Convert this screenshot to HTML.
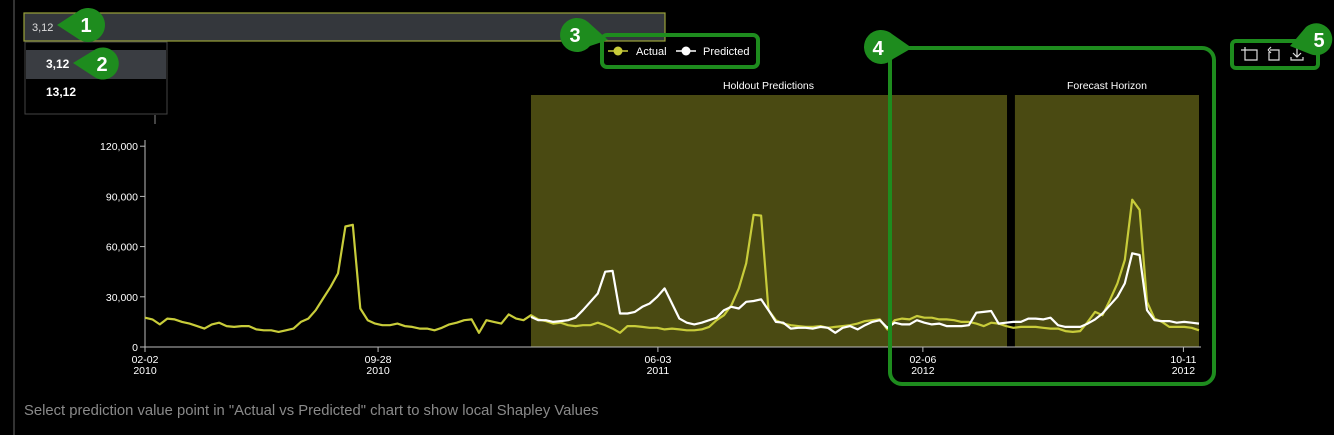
<!DOCTYPE html>
<html><head><meta charset="utf-8">
<style>
html,body{margin:0;padding:0;background:#000;width:1334px;height:435px;overflow:hidden;font-family:"Liberation Sans",sans-serif;}
svg{display:block}
</style></head>
<body>
<svg id="chart" width="1334" height="435" xmlns="http://www.w3.org/2000/svg">
  <line x1="14" y1="0" x2="14" y2="435" stroke="#444" stroke-width="1.5"/>
  <g>
    <rect x="24" y="13" width="641" height="28" fill="#34373c" stroke="#9aa23a" stroke-width="1.2"/>
    <text x="32" y="31" fill="#ddd" font-size="11">3,12</text>
  </g>
  <g>
    <rect x="25" y="42" width="142" height="72" fill="#000" stroke="#444" stroke-width="1"/>
    <g>
      <rect x="26" y="50" width="140" height="29" fill="#3a3d42"/>
      <text x="46" y="68" fill="#fff" font-size="12" font-weight="bold">3,12</text>
    </g>
    <g>
      <text x="46" y="96" fill="#fff" font-size="12" font-weight="bold">13,12</text>
    </g>
  </g>
  <line x1="155" y1="115" x2="155" y2="124" stroke="#888" stroke-width="1"/>
  <g id="plot"></g>
  <g>
    <line x1="608" y1="51" x2="628" y2="51" stroke="#c8cc3a" stroke-width="1.5"/>
    <circle cx="618" cy="51" r="4.5" fill="#c8cc3a"/>
    <text x="636" y="55" fill="#fff" font-size="11">Actual</text>
    <line x1="676" y1="51" x2="696" y2="51" stroke="#fff" stroke-width="1.5"/>
    <circle cx="686" cy="51" r="4.5" fill="#fff"/>
    <text x="703" y="55" fill="#fff" font-size="11">Predicted</text>
  </g>
  <g stroke="#ddd" stroke-width="1.2" fill="none">
    <g><path d="M1245 47 V60 H1257 V50 H1245 M1241 50 H1245"/></g>
    <g><path d="M1270 50 H1279 V60 H1269 V52 M1268 50 l3 -3 M1268 50 l3 3"/></g>
    <g><path d="M1297 47 V57 M1293 53 l4 4 l4 -4 M1291 57 V60 H1303 V57"/></g>
  </g>
  <g fill="none" stroke="#1e8c1e" stroke-width="4">
    <rect x="602" y="35" width="156" height="32" rx="5"/>
    <rect x="890" y="48" width="324" height="336" rx="12"/>
    <rect x="1232" y="41" width="86" height="27" rx="4"/>
  </g>
  <g fill="#1e8c1e">
    <path d="M57 25 L80 10 A17 17 0 1 1 80 40 Z"/><text x="86" y="32" fill="#fff" font-size="20" font-weight="bold" stroke="none" text-anchor="middle">1</text>
    <path d="M73 63 L96 49 A16 16 0 1 1 96 78 Z"/><text x="102" y="71" fill="#fff" font-size="20" font-weight="bold" text-anchor="middle">2</text>
    <path d="M608 40 L588 22 A17 17 0 1 0 590 46 Z"/><text x="575" y="42" fill="#fff" font-size="20" font-weight="bold" text-anchor="middle">3</text>
    <path d="M912 48 L892 34 A17 17 0 1 0 893 59 Z"/><text x="878" y="55" fill="#fff" font-size="20" font-weight="bold" text-anchor="middle">4</text>
    <path d="M1290 46 L1306 27 A16 16 0 1 1 1310 54 Z"/><text x="1319" y="47" fill="#fff" font-size="20" font-weight="bold" text-anchor="middle">5</text>
  </g>
  <text x="24" y="415" fill="#8a8a8a" font-size="14.8">Select prediction value point in "Actual vs Predicted" chart to show local Shapley Values</text>
</svg>
<script>
const actualValues=[17500,16500,13500,17000,16500,15000,14000,12500,11000,13500,14500,12500,12000,12500,12500,10500,10000,10000,9000,10000,11000,15000,17000,22000,29000,36000,44000,72000,73000,23000,16000,14000,13000,13000,14000,12500,12000,11000,11000,10000,11500,13500,14500,16000,16500,8500,16000,15000,14000,19500,17000,16000,
19000,16500,15500,14000,14500,13000,12500,13000,13000,14500,13000,11000,8500,12500,12500,12000,11500,11500,10500,11000,10500,10000,10000,10500,12000,16000,19000,25000,35000,50000,79000,78500,22000,16000,14000,13000,12500,12000,12000,12500,11500,12000,12500,13000,14000,15500,16000,16500,10500,16000,17000,16500,18500,17500,17500,16500,16500,16000,15000,15000,14000,12500,14500,14000,12500,11500,12000,12000,12000,11500,11000,11000,9500,9000,9500,15000,21000,19000,28000,38000,52000,88000,82000,27000,17000,15000,12000,12000,12000,11500,10000];
const predictedStart=52;
const predictedValues=[18000,16000,16000,15000,15500,16000,17500,22000,27000,32000,45000,45500,20000,20000,21000,24000,26000,30000,35000,26000,17000,14500,13500,14500,16000,17500,22000,24000,23000,27000,27500,28500,22000,15000,14500,11000,11500,11500,11000,12000,11500,8500,11500,12500,10500,13000,15000,16000,11500,14500,13500,13500,16000,14500,13500,14000,12500,12500,12500,13000,20500,21000,21500,14000,14500,15000,15000,17000,17000,16500,17500,13000,12000,12000,12000,14000,16500,20000,25000,30000,38000,56000,55000,22000,16000,15500,15500,14500,15000,14500,14000];
const yTicks=[0,30000,60000,90000,120000];
const xTickIdx=[0,31.4,69.1,104.8,139.9];
const xTickLabels=[["02-02","2010"],["09-28","2010"],["06-03","2011"],["02-06","2012"],["10-11","2012"]];
const holdoutRange=[52,116];
const forecastRange=[117.2,142];

const X0=145,X1=1199,Y0=347,YTOP=146.2,VMAX=120000;
const n=actualValues.length;
const xs=i=>X0+(X1-X0)*i/(n-1);
const ys=v=>Y0-(Y0-YTOP)*v/VMAX;
const NS="http://www.w3.org/2000/svg";
const plot=document.getElementById('plot');
function mk(tag,attrs,parent){const e=document.createElementNS(NS,tag);for(const k in attrs)e.setAttribute(k,attrs[k]);(parent||plot).appendChild(e);return e;}

const h=mk('rect',{x:xs(holdoutRange[0]),y:95,width:xs(holdoutRange[1])-xs(holdoutRange[0])+1,height:Y0-95,fill:'#4a4a12'});


const f=mk('rect',{x:xs(forecastRange[0]),y:95,width:xs(forecastRange[1])-xs(forecastRange[0]),height:Y0-95,fill:'#4a4a12'});


const ht=mk('text',{x:(xs(holdoutRange[0])+xs(holdoutRange[1]))/2,y:89,fill:'#fff','font-size':'10.5','text-anchor':'middle'});
ht.textContent='Holdout Predictions';


const ft=mk('text',{x:(xs(forecastRange[0])+xs(forecastRange[1]))/2,y:89,fill:'#fff','font-size':'10.5','text-anchor':'middle'});
ft.textContent='Forecast Horizon';



const ya=mk('line',{x1:X0,y1:140,x2:X0,y2:Y0,stroke:'#bbb','stroke-width':1});


yTicks.forEach(v=>{
  mk('line',{x1:X0-5,y1:ys(v),x2:X0,y2:ys(v),stroke:'#bbb'});
  const t=mk('text',{x:X0-7,y:ys(v)+4,fill:'#fff','font-size':'10.5','text-anchor':'end'});
  t.textContent=v.toLocaleString('en-US');
  
  
});
const xa=mk('line',{x1:X0,y1:Y0,x2:X1+2,y2:Y0,stroke:'#bbb','stroke-width':1});


xTickIdx.forEach((ix,k)=>{
  const x=xs(ix);
  mk('line',{x1:x,y1:Y0,x2:x,y2:Y0+5,stroke:'#bbb'});
  const t=mk('text',{x:x,y:Y0+16,fill:'#fff','font-size':'10.5','text-anchor':'middle'});
  t.textContent=xTickLabels[k][0];
  
  
  const t2=mk('text',{x:x,y:Y0+27,fill:'#fff','font-size':'10.5','text-anchor':'middle'});
  t2.textContent=xTickLabels[k][1];
  
  
});
const pa=actualValues.map((v,i)=>xs(i).toFixed(1)+','+ys(v).toFixed(1)).join(' ');
const la=mk('polyline',{points:pa,fill:'none',stroke:'#c8cc3a','stroke-width':2.2,'stroke-linejoin':'round'});


const pp=predictedValues.map((v,i)=>xs(i+predictedStart).toFixed(1)+','+ys(v).toFixed(1)).join(' ');
const lp=mk('polyline',{points:pp,fill:'none',stroke:'#fff','stroke-width':2.2,'stroke-linejoin':'round'});


</script>
</body></html>
